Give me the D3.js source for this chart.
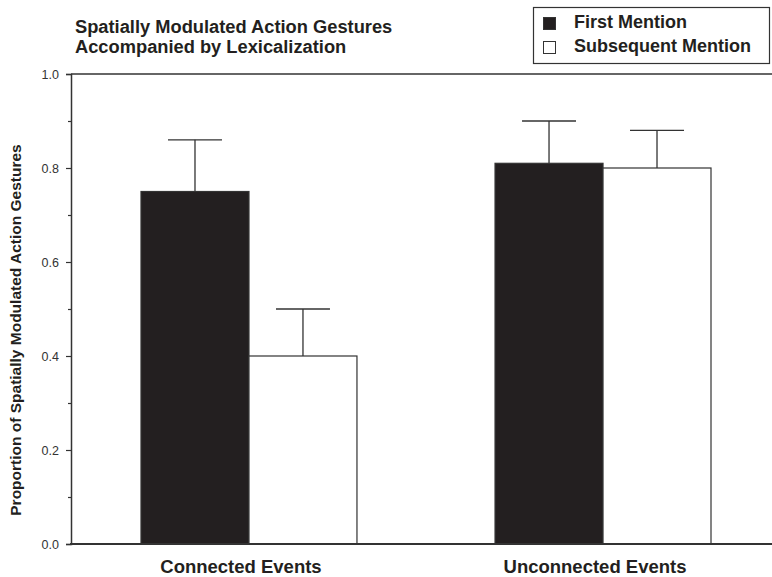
<!DOCTYPE html>
<html>
<head>
<meta charset="utf-8">
<script src="https://cdn.jsdelivr.net/npm/d3@7"></script>
<style>
  body { margin: 0; background: #fff; }
  svg { display: block; font-family: "Liberation Sans", Arial, sans-serif; }
</style>
</head>
<body>
<div id="chart"></div>
<script>
// Data ////////////////////////////////////////////
const categories = ["Connected Events", "Unconnected Events"];
const seriesNames = ["First Mention", "Subsequent Mention"];
const firstMention = [0.75, 0.81];
const subsequentMention = [0.40, 0.80];
const firstError = [0.86, 0.90];
const subsequentError = [0.50, 0.88];
const yTicks = [0, 0.2, 0.4, 0.6, 0.8, 1.0];
const yMinorTicks = [0.1, 0.3, 0.5, 0.7, 0.9];

const width = 772;
const height = 577;
const colors = { "First Mention": "#231f20", "Subsequent Mention": "#ffffff" };
const ink = "#333";

const svg = d3.select("#chart").append("svg")
  .attr("width", width)
  .attr("height", height);

// Scales //////////////////////////////////////////
const y = d3.scaleLinear().domain([0, 1]).range([544, 74]);
const x0 = d3.scaleBand().domain(categories).range([141, 711]).paddingInner(0.39);
const x1 = d3.scaleBand().domain(seriesNames).range([0, x0.bandwidth()]);

const rows = categories.map((c, i) => ({
  cat: c,
  bars: [
    { name: seriesNames[0], value: firstMention[i], err: firstError[i] },
    { name: seriesNames[1], value: subsequentMention[i], err: subsequentError[i] }
  ]
}));

// Frame top line
svg.append("line")
  .attr("x1", 71).attr("x2", width)
  .attr("y1", y(1)).attr("y2", y(1))
  .attr("stroke", ink).attr("stroke-width", 1.5);

// Bars ////////////////////////////////////////////
const groups = svg.selectAll(".group")
  .data(rows)
  .enter().append("g")
  .attr("transform", d => `translate(${x0(d.cat)},0)`);

// error bars first so bar tops cover them
groups.selectAll(".err")
  .data(d => d.bars)
  .enter().append("g")
  .each(function (d) {
    const cx = x1(d.name) + x1.bandwidth() / 2;
    const g = d3.select(this);
    g.append("line")
      .attr("x1", cx).attr("x2", cx)
      .attr("y1", y(d.value)).attr("y2", y(d.err))
      .attr("stroke", ink).attr("stroke-width", 1.3);
    g.append("line")
      .attr("x1", cx - 27).attr("x2", cx + 27)
      .attr("y1", y(d.err)).attr("y2", y(d.err))
      .attr("stroke", ink).attr("stroke-width", 1.3);
  });

groups.selectAll("rect")
  .data(d => d.bars)
  .enter().append("rect")
  .attr("x", d => x1(d.name))
  .attr("width", x1.bandwidth())
  .attr("y", d => y(d.value))
  .attr("height", d => y(0) - y(d.value))
  .attr("fill", d => colors[d.name])
  .attr("stroke", ink)
  .attr("stroke-width", 1.2);

// Axes ////////////////////////////////////////////
const yAxis = svg.append("g")
  .attr("transform", "translate(71,0)")
  .call(d3.axisLeft(y).tickValues(yTicks).tickFormat(d3.format(".1f")).tickSize(5).tickPadding(7));
yAxis.select(".domain").attr("stroke", ink).attr("stroke-width", 1.5);
yAxis.selectAll(".tick line").attr("stroke", ink).attr("stroke-width", 1.2);
yAxis.selectAll(".tick text")
  .attr("fill", "#333")
  .style("font-size", "12.5px");

svg.append("g")
  .attr("transform", "translate(71,0)")
  .call(d3.axisLeft(y).tickValues(yMinorTicks).tickFormat("").tickSize(3))
  .call(g => g.select(".domain").remove())
  .selectAll(".tick line").attr("stroke", ink).attr("stroke-width", 1.2);

svg.append("line")
  .attr("x1", 70).attr("x2", width)
  .attr("y1", y(0)).attr("y2", y(0))
  .attr("stroke", ink).attr("stroke-width", 2.2);

// Category labels
const catOffset = [-8, -8];
svg.selectAll(".cat")
  .data(categories)
  .enter().append("text")
  .attr("x", (d, i) => x0(d) + x0.bandwidth() / 2 + catOffset[i])
  .attr("y", 573)
  .attr("text-anchor", "middle")
  .attr("font-weight", "bold")
  .attr("font-size", "18.5px")
  .attr("fill", "#231f20")
  .text(d => d);

// Y label
svg.append("text")
  .attr("transform", "translate(21,330) rotate(-90)")
  .attr("text-anchor", "middle")
  .attr("font-weight", "bold")
  .attr("font-size", "15.5px")
  .attr("fill", "#231f20")
  .text("Proportion of Spatially Modulated Action Gestures");

// Title
const title = svg.append("text")
  .attr("font-weight", "bold")
  .attr("font-size", "18.3px")
  .attr("fill", "#231f20");
title.append("tspan").attr("x", 75).attr("y", 33).text("Spatially Modulated Action Gestures");
title.append("tspan").attr("x", 75).attr("y", 53).text("Accompanied by Lexicalization");

// Legend
const legend = svg.append("g");
legend.append("rect")
  .attr("x", 533.5).attr("y", 7.5)
  .attr("width", 236).attr("height", 56)
  .attr("fill", "#fff").attr("stroke", ink).attr("stroke-width", 1.2);
seriesNames.forEach((s, i) => {
  legend.append("rect")
    .attr("x", 543.5).attr("y", 17.5 + i * 24)
    .attr("width", 12).attr("height", 12)
    .attr("fill", colors[s]).attr("stroke", ink).attr("stroke-width", 1);
  legend.append("text")
    .attr("x", 574).attr("y", 28 + i * 24)
    .attr("font-weight", "bold")
    .attr("font-size", "18px")
    .attr("fill", "#231f20")
    .text(s);
});
</script>
</body>
</html>
